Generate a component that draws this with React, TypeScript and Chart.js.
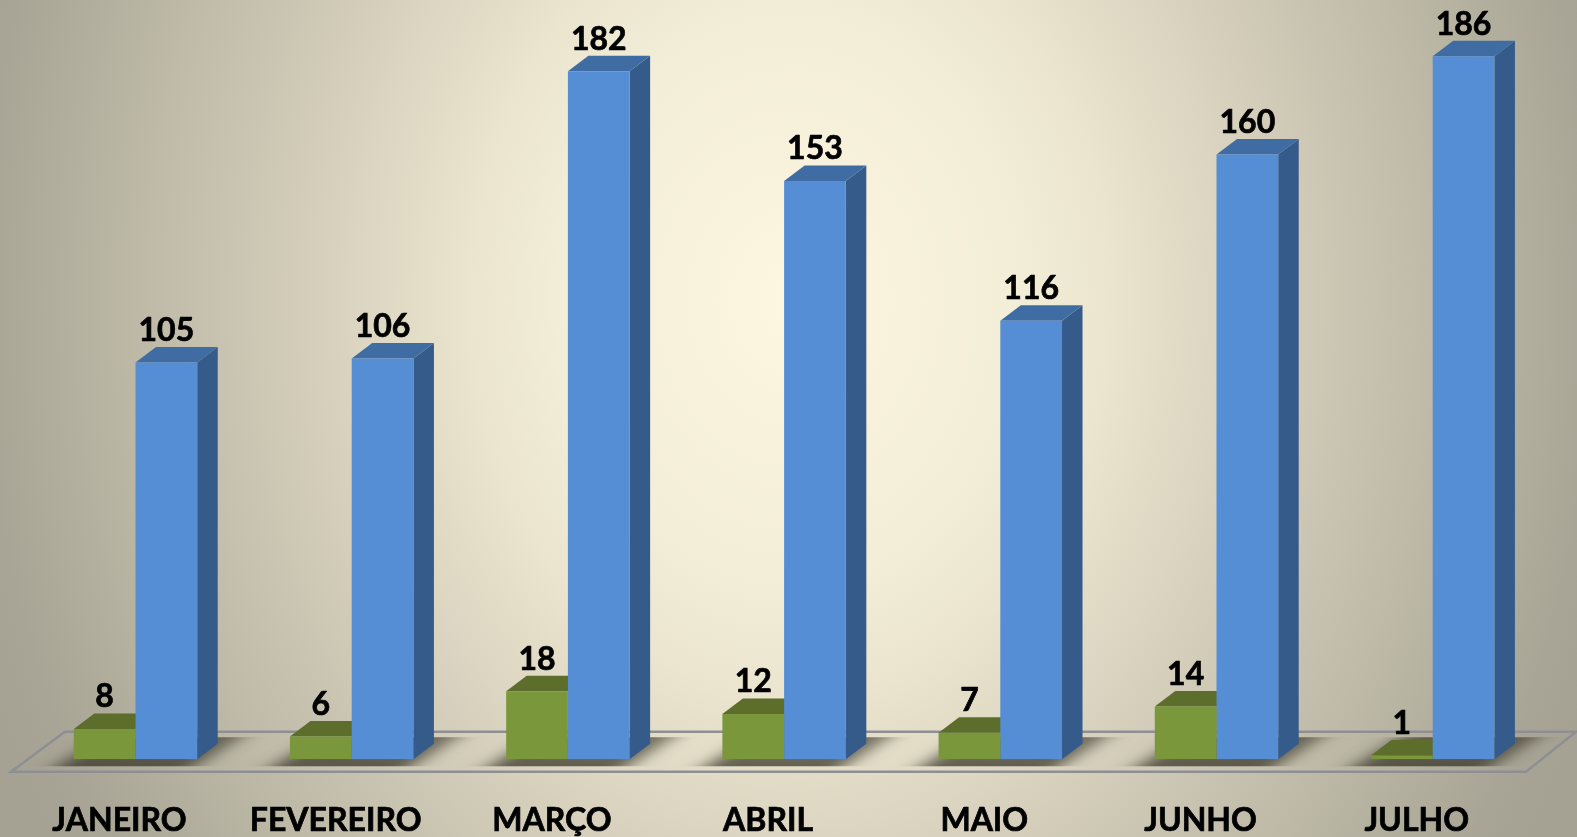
import React, { useEffect, useRef } from "react";
import { Chart, registerables } from "chart.js";

Chart.register(...registerables);

const categories = ["JANEIRO", "FEVEREIRO", "MARÇO", "ABRIL", "MAIO", "JUNHO", "JULHO"];
const greenValues = [8, 6, 18, 12, 7, 14, 1];
const blueValues = [105, 106, 182, 153, 116, 160, 186];

const DEPTH_X = 20.5;
const DEPTH_Y = -15.5;
const FONT = "Lato, Carlito, sans-serif";

const faceColors = [
  { top: "#5c6d2c", side: "#55652b" },
  { top: "#3f6ca3", side: "#355b8b" },
];

const floorPlugin = {
  id: "floor3d",
  beforeDatasetsDraw(chart: any) {
    const { ctx } = chart;
    const base = chart.scales.y.getPixelForValue(0);
    const outline = () => {
      ctx.beginPath();
      ctx.moveTo(11, base + 12.5);
      ctx.lineTo(1526, base + 12.5);
      ctx.lineTo(1576, base - 27.5);
      ctx.lineTo(65, base - 27.5);
      ctx.closePath();
    };
    ctx.save();
    // soft shadow cast on the floor: sharp along the top and bottom, faded at its ends
    ctx.save();
    ctx.beginPath();
    ctx.rect(0, base - 22, chart.width, 29);
    ctx.clip();
    const greenMeta = chart.getDatasetMeta(0);
    const blueMeta = chart.getDatasetMeta(1);
    const grad = ctx.createLinearGradient(0, base - 22, 0, base + 7);
    grad.addColorStop(0, "rgba(50,46,34,0.62)");
    grad.addColorStop(0.5, "rgba(50,46,34,0.66)");
    grad.addColorStop(1, "rgba(50,46,34,0.72)");
    ctx.filter = "blur(7px)";
    ctx.fillStyle = grad;
    greenMeta.data.forEach((g: any, i: number) => {
      const b = blueMeta.data[i];
      const left = g.x - g.width / 2;
      const right = b.x + b.width / 2;
      ctx.beginPath();
      ctx.moveTo(left - 48, base + 27);
      ctx.lineTo(right - 33, base + 27);
      ctx.lineTo(right + 67, base - 37);
      ctx.lineTo(left + 52, base - 37);
      ctx.closePath();
      ctx.fill();
    });
    ctx.restore();
    outline();
    ctx.strokeStyle = "#8e8f93";
    ctx.lineWidth = 2.5;
    ctx.stroke();
    ctx.restore();
  },
};

const depthPlugin = {
  id: "depth3d",
  beforeDatasetsDraw(chart: any) {
    const { ctx } = chart;
    const base = chart.scales.y.getPixelForValue(0);
    chart.data.datasets.forEach((_: any, d: number) => {
      chart.getDatasetMeta(d).data.forEach((bar: any) => {
        const l = bar.x - bar.width / 2;
        const r = bar.x + bar.width / 2;
        ctx.fillStyle = faceColors[d].side;
        ctx.beginPath();
        ctx.moveTo(r, bar.y);
        ctx.lineTo(r + DEPTH_X, bar.y + DEPTH_Y);
        ctx.lineTo(r + DEPTH_X, base + DEPTH_Y);
        ctx.lineTo(r, base);
        ctx.closePath();
        ctx.fill();
        ctx.fillStyle = faceColors[d].top;
        ctx.beginPath();
        ctx.moveTo(l, bar.y);
        ctx.lineTo(l + DEPTH_X, bar.y + DEPTH_Y);
        ctx.lineTo(r + DEPTH_X, bar.y + DEPTH_Y);
        ctx.lineTo(r, bar.y);
        ctx.closePath();
        ctx.fill();
      });
    });
  },
};

const labelPlugin = {
  id: "valueLabels",
  afterDatasetsDraw(chart: any) {
    const { ctx } = chart;
    ctx.save();
    ctx.fillStyle = "#000";
    ctx.strokeStyle = "#000";
    ctx.lineWidth = 0.7;
    ctx.lineJoin = "round";
    ctx.font = `700 32px ${FONT}`;
    ctx.textAlign = "center";
    ctx.textBaseline = "middle";
    chart.data.datasets.forEach((ds: any, d: number) => {
      chart.getDatasetMeta(d).data.forEach((bar: any, i: number) => {
        const text = String(ds.data[i]);
        ctx.fillText(text, bar.x, bar.y - 32);
        ctx.strokeText(text, bar.x, bar.y - 32);
      });
    });
    ctx.restore();
  },
};

export default function App() {
  const ref = useRef<HTMLCanvasElement>(null);
  useEffect(() => {
    const chart = new Chart(ref.current as HTMLCanvasElement, {
      type: "bar",
      data: {
        labels: categories,
        datasets: [
          { label: "Verde", data: greenValues, backgroundColor: "#7a973c" },
          { label: "Azul", data: blueValues, backgroundColor: "#558ed5" },
        ],
      },
      options: {
        animation: false,
        responsive: false,
        devicePixelRatio: 1,
        layout: { padding: { left: 27.4, right: 36.2, top: 3.3, bottom: 0 } },
        plugins: { legend: { display: false }, tooltip: { enabled: false } },
        datasets: { bar: { barPercentage: 1, categoryPercentage: 0.571 } },
        scales: {
          x: {
            grid: { display: false },
            border: { display: false },
            afterFit: (s: any) => {
              s.height = 77.7;
            },
            ticks: {
              color: "#000",
              font: { family: FONT, weight: "700", size: 32 },
              textStrokeColor: "#000",
              textStrokeWidth: 0.7,
              maxRotation: 0,
              autoSkip: false,
              labelOffset: -16,
              padding: 34,
            },
          },
          y: { display: false, min: 0, max: 200 },
        },
      },
      plugins: [floorPlugin, depthPlugin, labelPlugin],
    } as any);
    return () => chart.destroy();
  }, []);
  return (
    <div
      style={{
        position: "fixed",
        left: 0,
        top: 0,
        width: 1577,
        height: 837,
        overflow: "hidden",
        background:
          "radial-gradient(ellipse 860px 1070px at 790px 300px, #fdf6e0 0%, #f3eed8 26%, #ebe5cf 37%, #d4cebb 56%, #bdb9a6 76%, #a8a596 94%, #a5a293 100%)",
      }}
    >
      <canvas ref={ref} width={1577} height={837} style={{ display: "block" }} />
    </div>
  );
}
